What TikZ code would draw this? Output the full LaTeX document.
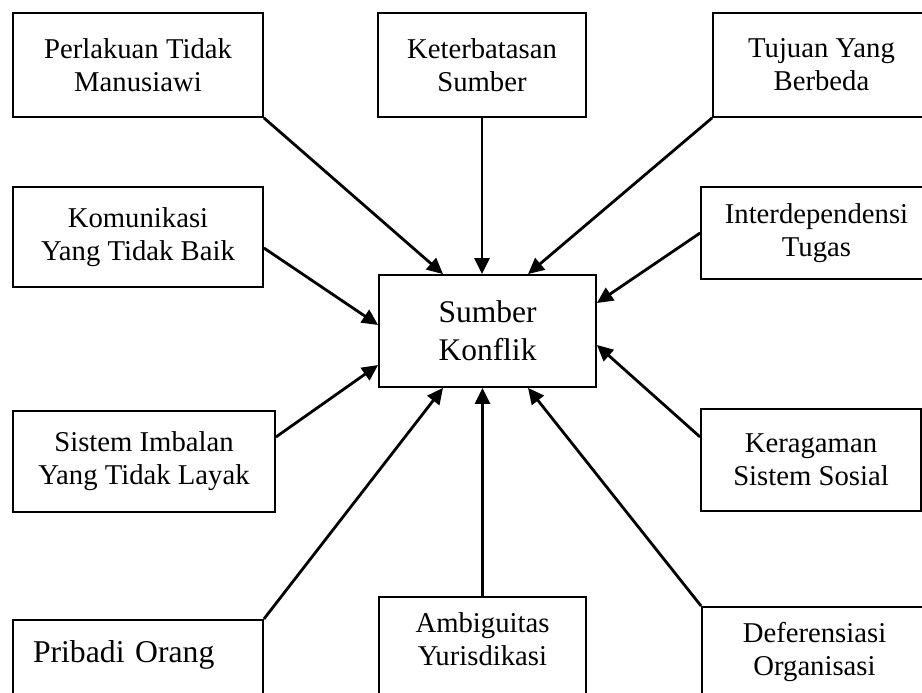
\documentclass[tikz,border=0pt]{standalone}
\usepackage{fontspec}
\setmainfont{Liberation Serif}
\usetikzlibrary{arrows.meta}

\tikzset{
  kotak/.style={draw, line width=1.8pt, inner sep=0pt, align=center,
    font=\fontsize{28.7pt}{33pt}\selectfont},
  kotakpotong/.style={kotak, anchor=north, text depth=110pt},
  panah/.style={line width=2.8pt, -{Triangle[length=16pt,width=15pt]}}
}

\begin{document}
\begin{tikzpicture}[x=1pt,y=1pt]
        \useasboundingbox (0,0) rectangle (922,693);
        \clip (0,0) rectangle (922,693);

        % baris atas
        \node[kotak, minimum width=250pt, minimum height=104pt] (perlakuan) at (138,628) {Perlakuan Tidak\\Manusiawi};
        \node[kotak, minimum width=208pt, minimum height=104pt] (keterbatasan) at (482,628) {Keterbatasan\\Sumber};
        \node[kotak, minimum width=217pt, minimum height=104pt] (tujuan) at (821.5,628) {Tujuan Yang\\Berbeda};

        % baris tengah
        \node[kotak, minimum width=250pt, minimum height=100pt] (komunikasi) at (138,456) {Komunikasi\\Yang Tidak Baik};
        \node[kotak, minimum width=231pt, minimum height=92pt] (interdependensi) at (816.5,460) {Interdependensi\\Tugas};
        \node[kotak, minimum width=217pt, minimum height=112pt, font=\fontsize{31.5pt}{38pt}\selectfont] (sumber) at (487.5,362) {Sumber\\Konflik};
        \node[kotak, minimum width=262pt, minimum height=101pt] (sistem) at (144,231.5) {Sistem Imbalan\\Yang Tidak Layak};
        \node[kotak, minimum width=220pt, minimum height=102pt] (keragaman) at (811,233) {Keragaman\\Sistem Sosial};

        % baris bawah (terpotong)
        \node[kotakpotong, text width=210pt, inner xsep=20pt, align=left, text height=43pt, font=\fontsize{31.7pt}{38pt}\selectfont] (pribadi) at (138,74) {Pribadi Orang};
        \node[kotakpotong, text width=207pt, text height=36pt] (ambiguitas) at (482.5,97) {Ambiguitas\\Yurisdikasi};
        \node[kotakpotong, text width=225pt, text height=36pt] (deferensiasi) at (814.5,87) {Deferensiasi\\Organisasi};

        \draw[panah] (perlakuan.south east) -- ([xshift=-44.5pt]sumber.north);
        \draw[panah] (keterbatasan.south) -- (keterbatasan.south |- sumber.north);
        \draw[panah] (tujuan.south west) -- ([xshift=40.5pt]sumber.north);
        \draw[panah] ([yshift=-11pt]komunikasi.east) -- ([yshift=6pt]sumber.west);
        \draw[panah] (interdependensi.west) -- ([yshift=28pt]sumber.east);
        \draw[panah] ([yshift=24.5pt]sistem.east) -- ([yshift=-34pt]sumber.west);
        \draw[panah] ([yshift=23pt]keragaman.west) -- ([yshift=-14pt]sumber.east);
        \draw[panah] (pribadi.north east) -- ([xshift=-44.5pt]sumber.south);
        \draw[panah] (ambiguitas.north) -- (ambiguitas.north |- sumber.south);
        \draw[panah] (deferensiasi.north west) -- ([xshift=40.5pt]sumber.south);
    \end{tikzpicture}
\end{document}
